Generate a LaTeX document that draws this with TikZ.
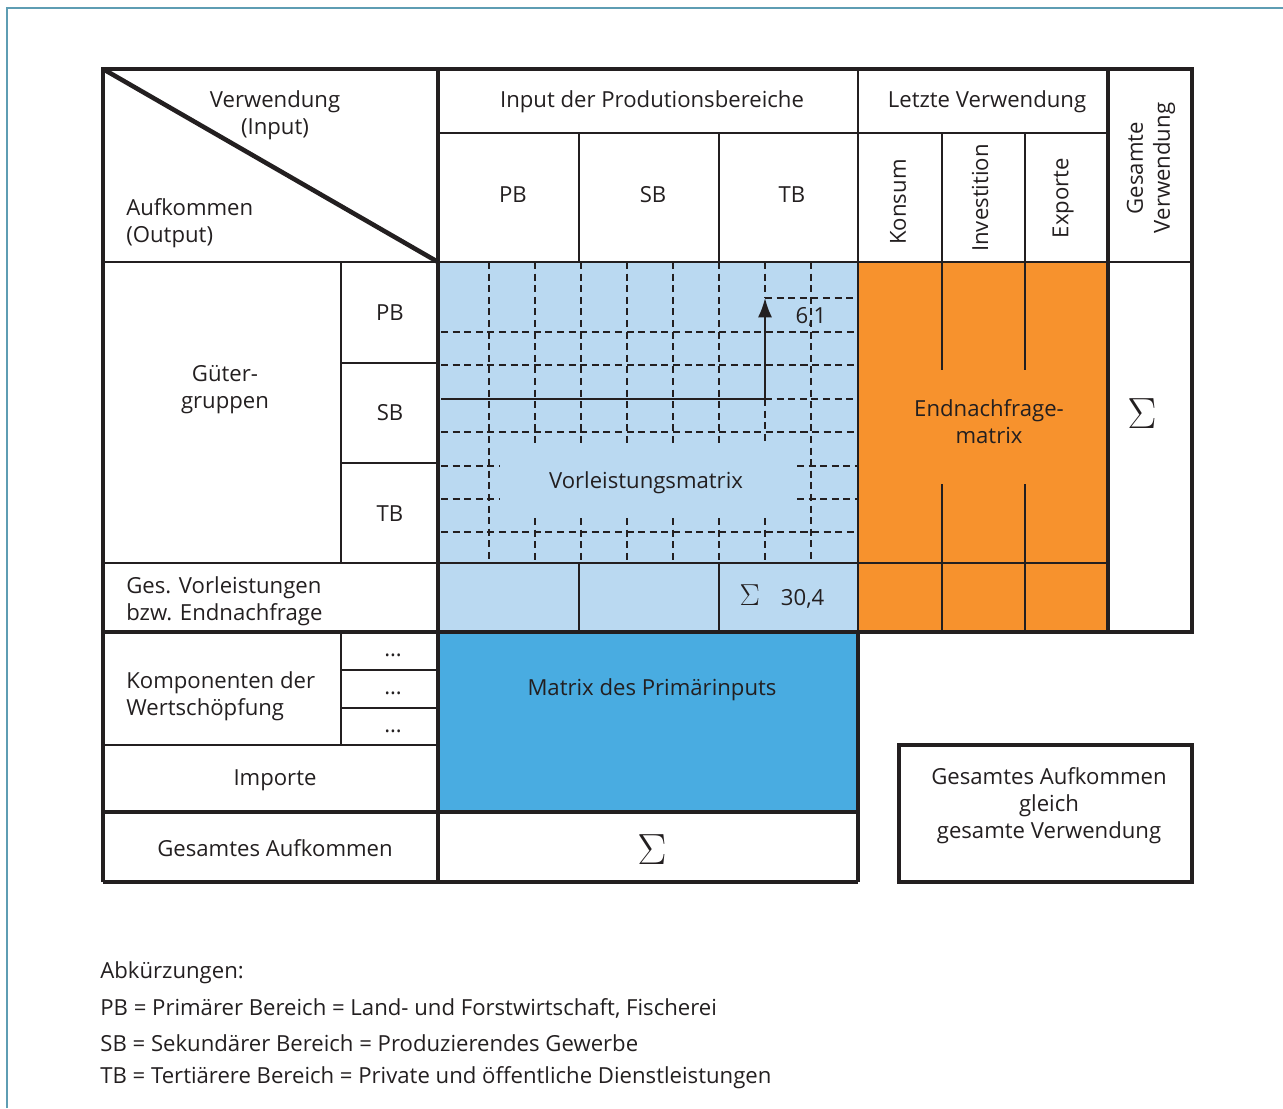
\documentclass[tikz,border=0pt]{standalone}
\usepackage{fontspec}
\setmainfont{Open Sans}
\usepackage{amsmath}
\usepackage{xcolor}
\usetikzlibrary{arrows.meta}
\definecolor{hellblau}{HTML}{BAD9F1}
\definecolor{mittelblau}{HTML}{49ACE1}
\definecolor{endorange}{HTML}{F7922D}
\definecolor{schrift}{HTML}{231F20}
\definecolor{rahmen}{HTML}{5E9DB3}

\begin{document}
\begin{tikzpicture}[x=0.02cm,y=-0.02cm]%
  \tikzstyle{duenn}=[line width=1.1pt,draw=schrift]
  \tikzstyle{dick}=[line width=2.6pt,draw=schrift]
  \tikzstyle{gitter}=[line width=1.1pt,draw=schrift,dash pattern=on 4pt off 2.6pt]
  \tikzstyle{txt}=[text=schrift,font=\fontsize{12.6}{15.3}\selectfont,inner sep=0]
  \tikzstyle{links}=[txt,anchor=west,align=left]
  \tikzstyle{mitte}=[txt,align=center]
  \tikzstyle{sigma}=[txt,font=\fontsize{27}{29}\selectfont]
  \useasboundingbox (0,0) rectangle (1283,1108);
  \draw[rahmen,line width=0.8pt] (7,1108) -- (7,8) -- (1283,8);
  % Flaechen
  \fill[hellblau] (438,262) rectangle (858,632);
  \fill[endorange] (858,262) rectangle (1108,632);
  \fill[mittelblau] (438,632) rectangle (858,812);
  % Gitter der Vorleistungsmatrix
  \foreach \x in {489,811} \draw[gitter] (\x,262) -- (\x,563);
  \foreach \x in {535,581,627,673,719}
    \draw[gitter] (\x,262) -- (\x,443) (\x,518) -- (\x,563);
  \draw[gitter] (765,262) -- (765,298) (765,399) -- (765,443) (765,518) -- (765,563);
  \foreach \y in {332,365,432,532} \draw[gitter] (441,\y) -- (858,\y);
  \draw[gitter] (765,298) -- (858,298) (765,399) -- (858,399);
  \foreach \y in {466,499} \draw[gitter] (441,\y) -- (499,\y) (797,\y) -- (858,\y);
  \coordinate (pfeilA) at (441,399);
  \coordinate (pfeilB) at (765,399);
  \coordinate (pfeilC) at (765,298);
  \draw[duenn,-{Latex[length=11pt,width=8pt]}] (pfeilA) -- (pfeilB) -- (pfeilC);
  % duenne Linien
  \draw[duenn] (438,133) -- (1108,133) (103,262) -- (1192,262) (103,563) -- (1108,563);
  \draw[duenn] (858,69) -- (858,632);
  \foreach \x in {579,719} \draw[duenn] (\x,133) -- (\x,262) (\x,563) -- (\x,632);
  \foreach \x in {942,1025} \draw[duenn] (\x,133) -- (\x,370) (\x,484) -- (\x,632);
  \draw[duenn] (341,262) -- (341,563) (341,363) -- (438,363) (341,463) -- (438,463);
  \draw[duenn] (341,632) -- (341,745) (341,670) -- (438,670) (341,708) -- (438,708);
  \draw[duenn] (103,745) -- (438,745);
  % dicke Linien
  \draw[dick] (103,882) -- (103,69) -- (1192,69) -- (1192,632) -- (103,632);
  \draw[dick] (438,69) -- (438,882) (1108,69) -- (1108,632);
  \draw[dick] (103,812) -- (858,812) (103,882) -- (858,882) (858,632) -- (858,882);
  \draw[dick] (103,69) -- (438,262);
  \draw[dick] (899,745) rectangle (1192,882);
  % Kopf
  \node(verw)[mitte] at (275,115) {Verwendung\\(Input)};
  \node(aufk)[links] at (126,223) {Aufkommen\\(Output)};
  \node(input)[mitte] at (652,102) {Input der Produtionsbereiche};
  \node(letzte)[mitte] at (987,102) {Letzte Verwendung};
  \node(gesverw)[mitte,rotate=90] at (1151,168) {Gesamte\\Verwendung};
  \node(pbO)[mitte] at (513,195) {PB};
  \node(sbO)[mitte] at (653,195) {SB};
  \node(tbO)[mitte] at (792,195) {TB};
  \node(konsum)[mitte,rotate=90] at (898,202) {Konsum};
  \node(invest)[mitte,rotate=90] at (980,198) {Investition};
  \node(export)[mitte,rotate=90] at (1063,198) {Exporte};
  % Zeilen
  \node(gueter)[mitte] at (225,390) {Güter-\\gruppen};
  \node(pbL)[mitte] at (390,313) {PB};
  \node(sbL)[mitte] at (390,413) {SB};
  \node(tbL)[mitte] at (390,514) {TB};
  \node(wert)[txt] at (811,317) {6,1};
  \node(vorl)[mitte] at (646,483) {Vorleistungsmatrix};
  \node(endn)[mitte] at (989,422) {Endnachfrage-\\matrix};
  \node(sumR)[sigma] at (1142,414) {$\Sigma$};
  \node(gesvl)[links] at (126,601) {Ges. Vorleistungen\\bzw. Endnachfrage};
  \node(summe)[txt] at (782,597) {{\fontsize{17}{19}\selectfont$\Sigma$}\hspace{12pt}30,4};
  \node(komp)[links] at (126,696) {Komponenten der\\Wertschöpfung};
  \foreach \y/\n in {655/a,693/b,731/c} \node(pkt\n)[txt] at (393,\y) {\dots};
  \node(import)[mitte] at (275,780) {Importe};
  \node(primaer)[mitte] at (652,690) {Matrix des Primärinputs};
  \node(gesauf)[mitte] at (275,848) {Gesamtes Aufkommen};
  \node(sumU)[sigma] at (652,850) {$\Sigma$};
  \node(gleich)[mitte] at (1049,806) {Gesamtes Aufkommen\\gleich\\gesamte Verwendung};
  % Abkuerzungen
  \node(abk)[links] at (100,973) {Abkürzungen:};
  \node(abkPB)[links] at (100,1008) {PB = Primärer Bereich = Land- und Forstwirtschaft, Fischerei};
  \node(abkSB)[links] at (100,1043) {SB = Sekundärer Bereich = Produzierendes Gewerbe};
  \node(abkTB)[links] at (100,1078) {TB = Tertiärere Bereich = Private und öffentliche Dienstleistungen};
\end{tikzpicture}
\end{document}
